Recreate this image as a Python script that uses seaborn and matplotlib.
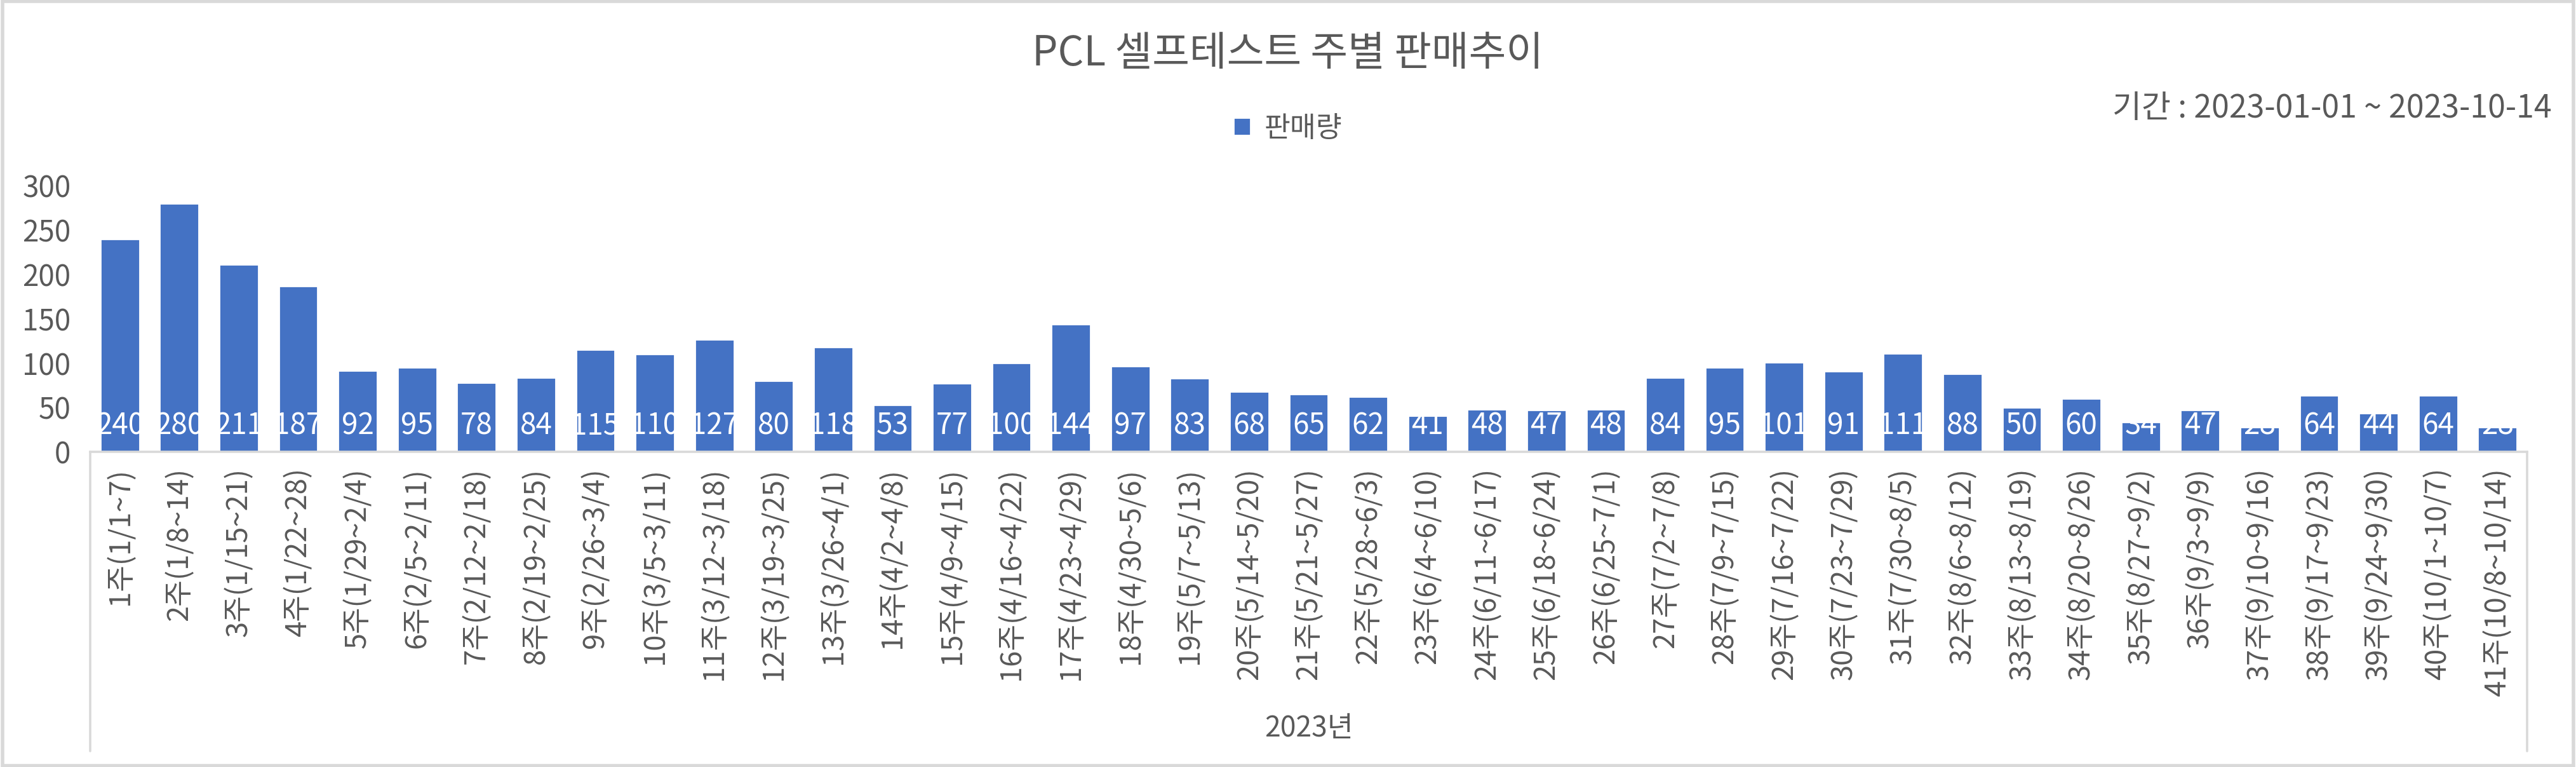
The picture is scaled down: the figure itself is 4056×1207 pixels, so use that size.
import matplotlib
matplotlib.use("Agg")
import matplotlib.pyplot as plt
import seaborn as sns
import pandas as pd
from matplotlib.patches import Rectangle
from matplotlib.lines import Line2D

weeks = ["1주(1/1~7)", "2주(1/8~14)", "3주(1/15~21)", "4주(1/22~28)", "5주(1/29~2/4)",
         "6주(2/5~2/11)", "7주(2/12~2/18)", "8주(2/19~2/25)", "9주(2/26~3/4)", "10주(3/5~3/11)",
         "11주(3/12~3/18)", "12주(3/19~3/25)", "13주(3/26~4/1)", "14주(4/2~4/8)", "15주(4/9~4/15)",
         "16주(4/16~4/22)", "17주(4/23~4/29)", "18주(4/30~5/6)", "19주(5/7~5/13)", "20주(5/14~5/20)",
         "21주(5/21~5/27)", "22주(5/28~6/3)", "23주(6/4~6/10)", "24주(6/11~6/17)", "25주(6/18~6/24)",
         "26주(6/25~7/1)", "27주(7/2~7/8)", "28주(7/9~7/15)", "29주(7/16~7/22)", "30주(7/23~7/29)",
         "31주(7/30~8/5)", "32주(8/6~8/12)", "33주(8/13~8/19)", "34주(8/20~8/26)", "35주(8/27~9/2)",
         "36주(9/3~9/9)", "37주(9/10~9/16)", "38주(9/17~9/23)", "39주(9/24~9/30)", "40주(10/1~10/7)",
         "41주(10/8~10/14)"]
sales = [240, 280, 211, 187, 92, 95, 78, 84, 115, 110,
         127, 80, 118, 53, 77, 100, 144, 97, 83, 68,
         65, 62, 41, 48, 47, 48, 84, 95, 101, 91,
         111, 88, 50, 60, 34, 47, 28, 64, 44, 64,
         28]
y_ticks = [0, 50, 100, 150, 200, 250, 300]
title = "PCL 셀프테스트 주별 판매추이"
series_name = "판매량"
period = "기간 : 2023-01-01 ~ 2023-10-14"
year_label = "2023년"

sns.set_theme(style="white")
plt.rcParams['font.family'] = ['Noto Sans CJK KR', 'DejaVu Sans']
TXT = "#595959"
BAR = "#4472C4"
GRID = "#D9D9D9"

W, H, DPI = 4056, 1207, 200
fig = plt.figure(figsize=(W / DPI, H / DPI), dpi=DPI)
fig.patch.set_facecolor("white")

left, right, y0, ytop = 142, 3979, 711, 292
ax = fig.add_axes([left / W, 1 - y0 / H, (right - left) / W, (y0 - ytop) / H])

df = pd.DataFrame({"week": weeks, "sales": sales})
sns.barplot(data=df, x="week", y="sales", color=BAR, saturation=1, width=0.66, ax=ax, label=series_name)

ax.set_xlim(-0.5, len(weeks) - 0.5)
ax.set_ylim(0, 300)
ax.set_yticks(y_ticks)
ax.set_xlabel("")
ax.set_ylabel("")
for s in ["top", "right", "left"]:
    ax.spines[s].set_visible(False)
ax.spines["bottom"].set_color(GRID)
ax.spines["bottom"].set_linewidth(1.3)
ax.tick_params(axis="y", length=0, pad=11, labelsize=16.5, labelcolor=TXT)
ax.tick_params(axis="x", length=0, pad=9, labelsize=16.3, labelcolor=TXT)
ax.set_xticks(range(len(weeks)))
ax.set_xticklabels(weeks, rotation=90, ha="center", va="top")

for p, v in zip(ax.patches, sales):
    cx = p.get_x() + p.get_width() / 2
    ax.annotate(str(v), xy=(cx, 0), xytext=(0, 6), textcoords="offset points",
                ha="center", va="bottom", color="white", fontsize=16.5, clip_on=False)

# category group box
fig.add_artist(Line2D([left / W, left / W], [1 - y0 / H, 1 - 1182 / H], color=GRID, lw=1.3))
fig.add_artist(Line2D([right / W, right / W], [1 - y0 / H, 1 - 1182 / H], color=GRID, lw=1.3))
fig.text((left + right) / 2 / W, 1 - 1146 / H, year_label, ha="center", va="center",
         fontsize=16, color=TXT)

fig.text(0.5, 1 - 85 / H, title, ha="center", va="center", fontsize=23, color=TXT)
fig.text(4018 / W, 1 - 171 / H, period, ha="right", va="center", fontsize=18, color=TXT)

handles, labels = ax.get_legend_handles_labels()
if ax.get_legend() is not None:
    ax.get_legend().remove()
fig.legend(handles[:1], [series_name], loc="center", bbox_to_anchor=(0.5, 1 - 202 / H),
           frameon=False, fontsize=16, labelcolor=TXT, handlelength=0.6, handleheight=0.6,
           handletextpad=0.5)

fig.add_artist(Rectangle((0.001, 0.002), 0.998, 0.996, transform=fig.transFigure,
                         fill=False, edgecolor=GRID, lw=2))

fig.savefig("out.png", dpi=DPI, facecolor="white")
